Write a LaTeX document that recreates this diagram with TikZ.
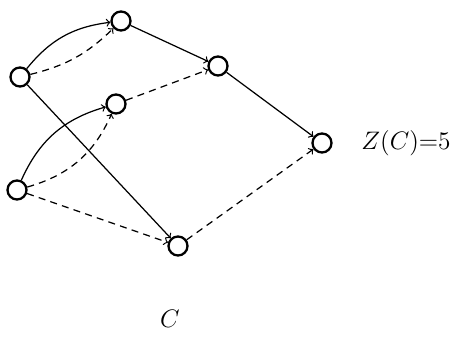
\documentclass[tikz,border=0pt]{standalone}
\usepackage{tikz}
\usepackage{amsmath}
\usetikzlibrary{positioning}

\tikzset{
  vtx/.style={draw, circle, line width=1.3pt, minimum size=0.38cm, inner sep=0pt},
  arc/.style={->, line width=0.7pt},
  darc/.style={->, line width=0.7pt, dash pattern=on 4pt off 3pt}
}

\begin{document}
\begin{tikzpicture}
            \useasboundingbox (0,0) rectangle (9.12,6.82);
            \node[vtx] (a) at (0.40,5.28) {};
            \node[vtx] (b) at (2.42,6.40) {};
            \node[vtx] (c) at (4.36,5.50) {};
            \node[vtx] (d) at (2.32,4.74) {};
            \node[vtx] (e) at (0.34,3.02) {};
            \node[vtx] (f) at (3.56,1.90) {};
            \node[vtx] (g) at (6.44,3.96) {};
            \node[right=0.45cm of g, font=\Large] (zval) {$Z(C){=}5$};
            \node[font=\Large] (cname) at (3.40,0.44) {$C$};

            \draw[arc] (a) to[bend left=22] (b);
            \draw[darc] (a) to[bend right=15] (b);
            \draw[arc] (b) -- (c);
            \draw[arc] (a) -- (f);
            \draw[darc] (d) -- (c);
            \draw[arc] (e) to[bend left=25] (d);
            \draw[darc] (e) to[bend right=25] (d);
            \draw[darc] (e) -- (f);
            \draw[darc] (f) -- (g);
            \draw[arc] (c) -- (g);
        \end{tikzpicture}
\end{document}
